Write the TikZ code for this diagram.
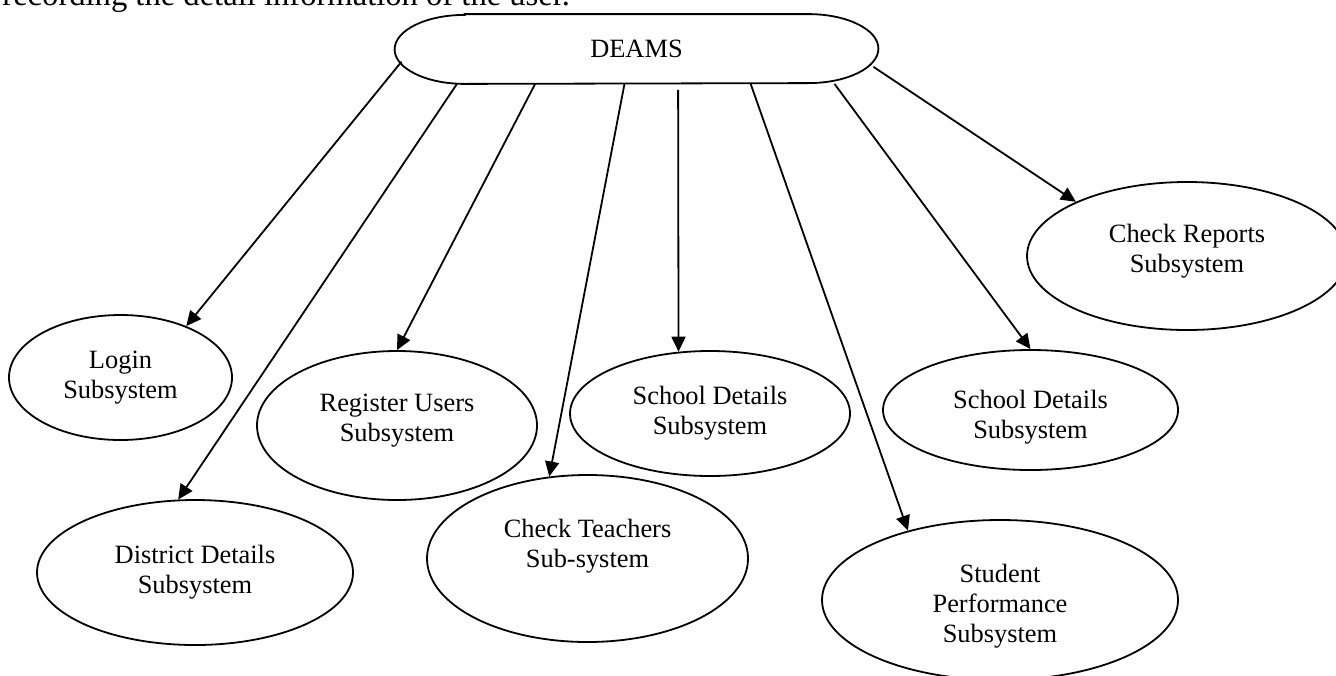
\documentclass[tikz,border=0pt]{standalone}
\usepackage{fontspec}
\setmainfont{Liberation Serif}
\usetikzlibrary{shapes.geometric,arrows.meta}
\begin{document}
\begin{tikzpicture}[
   x=0.5pt,y=-0.5pt,
   font=\fontsize{13.2pt}{15pt}\selectfont,
   sub/.style={draw,ellipse,line width=0.9pt,inner sep=0pt,align=center},
   to/.style={-{Triangle[length=7.5pt,width=7pt]},line width=0.9pt}]
\useasboundingbox (0,0) rectangle (1336,675);
\clip (0,0) rectangle (1336,675);
\node[anchor=base west,inner sep=0pt,font=\fontsize{16.3pt}{18pt}\selectfont] (txt) at (2,5) {recording the detail information of the user.};
\node[minimum width=241.5pt,minimum height=34.5pt,inner sep=0pt] (D) at (636.5,49) {DEAMS};
\draw[line width=0.9pt] ([xshift=35pt]D.north west) -- ([xshift=-35pt]D.north east)
   arc[start angle=90,end angle=-90,x radius=35pt,y radius=17.25pt]
   -- ([xshift=35pt]D.south west)
   arc[start angle=270,end angle=90,x radius=35pt,y radius=17.25pt] -- cycle;
\node[sub,minimum width=111.5pt,minimum height=62.5pt] (L) at (120.5,377.5) {Login\\Subsystem};
\node[sub,minimum width=158pt,minimum height=72.5pt] (DD) at (195,572.5) {District Details\\Subsystem};
\node[sub,minimum width=140pt,minimum height=74.5pt,text depth=7.9pt] (RU) at (397,425.5) {Register Users\\Subsystem};
\node[sub,minimum width=160.5pt,minimum height=83.5pt,text depth=14.9pt] (CT) at (587.5,558.5) {Check Teachers\\Sub-system};
\node[sub,minimum width=140pt,minimum height=62.5pt] (SD1) at (710,413.5) {School Details\\Subsystem};
\node[sub,minimum width=147.5pt,minimum height=60pt,text height=31pt] (SD2) at (1030.5,410) {School Details\\Subsystem};
\node[sub,minimum width=178pt,minimum height=80pt,text height=45pt] (SP) at (1000,600) {Student\\Performance\\Subsystem};
\node[sub,minimum width=160pt,minimum height=74pt,text depth=7.9pt] (CR) at (1187,256) {Check Reports\\Subsystem};
\draw[to,shorten <=-5.5pt] (D.185.9) -- (L.38.05);
\draw[to] (D.191.25) -- (DD.103.6);
\draw[to] (D.199.1) -- (RU.90);
\draw[to] (D.251.6) -- (CT.115.6);
\draw[to,shorten <=3pt] (D.320.3) -- (SD1.117.5);
\draw[to] (D.343.5) -- (SP.143.7);
\draw[to] (D.350.2) -- (SD2.90);
\draw[to,shorten <=-3pt] (D.355.7) -- (CR.154.3);
\end{tikzpicture}
\end{document}
